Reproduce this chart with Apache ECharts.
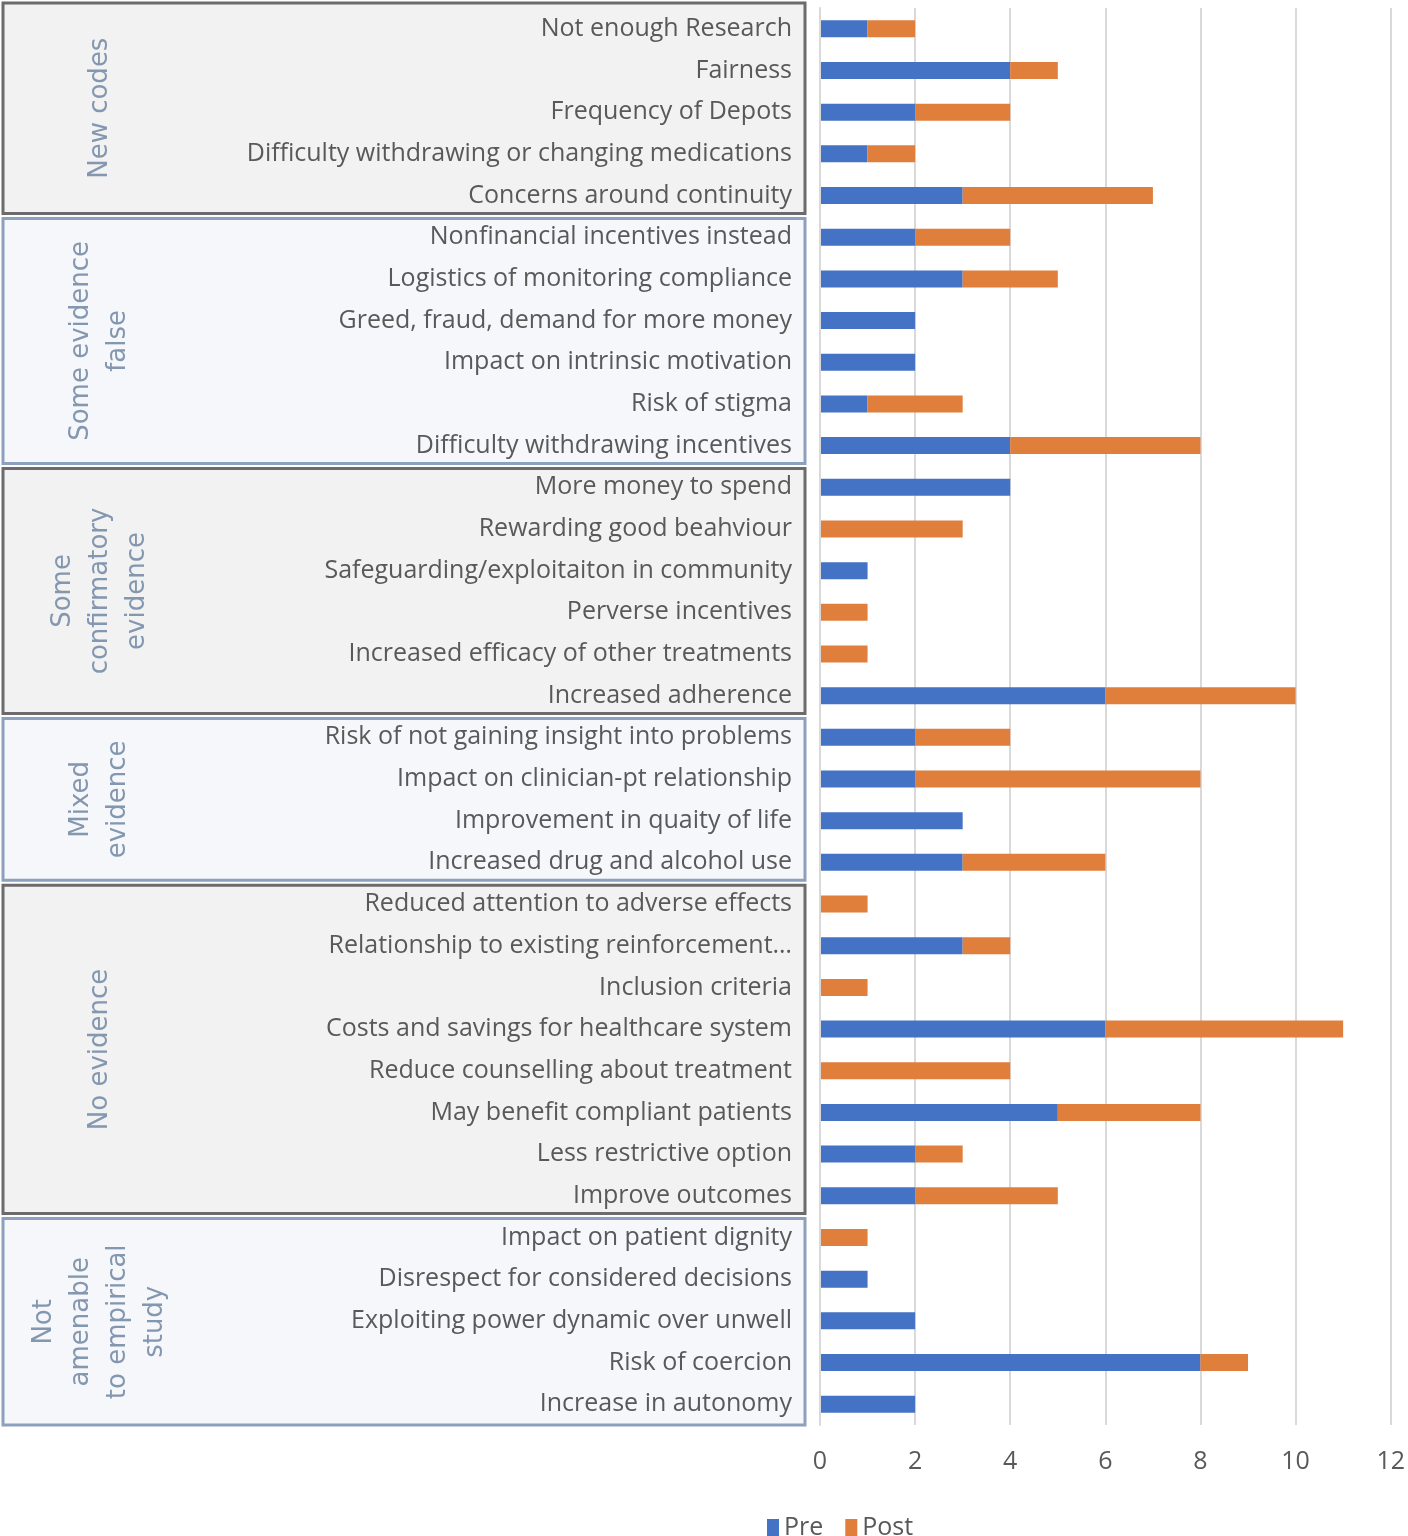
<!DOCTYPE html>
<html>
<head>
<meta charset="utf-8">
<script src="https://cdn.jsdelivr.net/npm/echarts@6/dist/echarts.min.js"></script>
<style>
html,body{margin:0;padding:0;background:#fff;}
#chart{width:1408px;height:1536px;}
</style>
</head>
<body>
<div id="chart"></div>
<script>
const categories = [
  "Not enough Research","Fairness","Frequency of Depots","Difficulty withdrawing or changing medications","Concerns around continuity",
  "Nonfinancial incentives instead","Logistics of monitoring compliance","Greed, fraud, demand for more money","Impact on intrinsic motivation","Risk of stigma","Difficulty withdrawing incentives",
  "More money to spend","Rewarding good beahviour","Safeguarding/exploitaiton in community","Perverse incentives","Increased efficacy of other treatments","Increased adherence",
  "Risk of not gaining insight into problems","Impact on clinician-pt relationship","Improvement in quaity of life","Increased drug and alcohol use",
  "Reduced attention to adverse effects","Relationship to existing reinforcement…","Inclusion criteria","Costs and savings for healthcare system","Reduce counselling about treatment","May benefit compliant patients","Less restrictive option","Improve outcomes",
  "Impact on patient dignity","Disrespect for considered decisions","Exploiting power dynamic over unwell","Risk of coercion","Increase in autonomy"
];
const preValues  = [1,4,2,1,3, 2,3,2,2,1,4, 4,0,1,0,0,6, 2,2,3,3, 0,3,0,6,0,5,2,2, 0,1,2,8,2];
const postValues = [1,1,2,1,4, 2,2,0,0,2,4, 0,3,0,1,1,4, 2,6,0,3, 1,1,1,5,4,3,1,3, 1,0,0,1,0];
const groupNames = ["New codes","Some evidence\nfalse","Some\nconfirmatory\nevidence","Mixed\nevidence","No evidence","Not\namenable\nto empirical\nstudy"];
const groupSizes = [5,6,6,4,8,5];
const xTicks = [0,2,4,6,8,10,12];

const GRID_LEFT = 820, GRID_RIGHT = 16, GRID_TOP = 8, GRID_BOTTOM = 111;
const W = 1408, H = 1536;
const gridH = H - GRID_TOP - GRID_BOTTOM;
const rowH = gridH / categories.length;

const styles = [
  {stroke:'#6b6b6b', fill:'#f2f2f2'},
  {stroke:'#8da0bd', fill:'#f5f7fa'}
];

const graphics = [];
let start = 0;
groupNames.forEach((name, gi) => {
  const y0 = GRID_TOP + start * rowH;
  const y1 = GRID_TOP + (start + groupSizes[gi]) * rowH;
  const top = gi === 0 ? 3 : y0 + 2;
  const bottom = gi === groupNames.length - 1 ? y1 : y1 - 3;
  const st = styles[gi % 2];
  graphics.push({
    type:'rect', z:1,
    shape:{x:3, y:top, width:802, height:bottom - top},
    style:{fill:st.fill, stroke:st.stroke, lineWidth:3}
  });
  graphics.push({
    type:'text', z:2,
    x:100, y:(top + bottom)/2, rotation:Math.PI/2,
    style:{text:name, fill:'#8497b0', font:'26px "DejaVu Sans"', align:'center', verticalAlign:'middle', lineHeight:37}
  });
  start += groupSizes[gi];
});

const chart = echarts.init(document.getElementById('chart'));
chart.setOption({
  backgroundColor:'#ffffff',
  animation:false,
  grid:{left:GRID_LEFT, right:GRID_RIGHT, top:GRID_TOP, bottom:GRID_BOTTOM, containLabel:false},
  legend:{
    left:762, top:1510, itemWidth:12, itemHeight:17, itemGap:22,
    icon:'rect',
    textStyle:{color:'#595959', fontSize:25, fontFamily:'"Liberation Sans Narrow","Open Sans",sans-serif'},
    data:['Pre','Post']
  },
  xAxis:{
    type:'value', min:0, max:12, interval:2,
    axisLine:{show:false}, axisTick:{show:false},
    splitLine:{show:true, lineStyle:{color:'#d9d9d9', width:2}},
    axisLabel:{color:'#595959', fontSize:25, margin:24, fontFamily:'"Liberation Sans Narrow","Open Sans",sans-serif',
      formatter:(v)=> xTicks.indexOf(v) >= 0 ? String(v) : ''}
  },
  yAxis:{
    type:'category', data:categories, inverse:true, z:10,
    axisLine:{show:true, lineStyle:{color:'#d9d9d9', width:2}},
    axisTick:{show:false},
    axisLabel:{color:'#595959', fontSize:25, margin:28, interval:0, fontFamily:'"Liberation Sans Narrow","Open Sans",sans-serif'}
  },
  graphic:graphics,
  series:[
    {name:'Pre', type:'bar', stack:'total', data:preValues, barWidth:17, itemStyle:{color:'#4472c4'}},
    {name:'Post', type:'bar', stack:'total', data:postValues, barWidth:17, itemStyle:{color:'#e07e3c'}}
  ]
});
</script>
</body>
</html>
